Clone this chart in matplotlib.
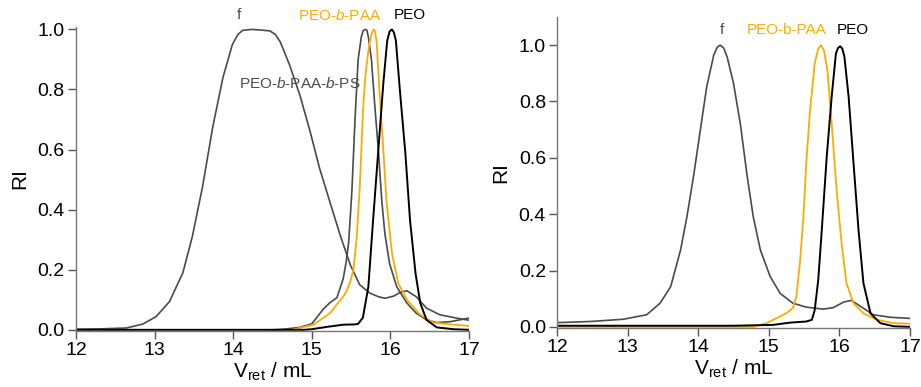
import matplotlib
matplotlib.use('Agg')
import matplotlib.pyplot as plt

plt.rcParams['font.family'] = ['Liberation Sans', 'DejaVu Sans']
plt.rcParams['mathtext.fontset'] = 'custom'
plt.rcParams['mathtext.rm'] = 'Liberation Sans'
plt.rcParams['mathtext.it'] = 'Liberation Sans:italic'

#left panel: triblock, f, PEO-b-PAA, PEO
L_ps_x = [12.0, 12.3, 12.64, 12.85, 13.02, 13.19, 13.36, 13.48, 13.61, 13.74, 13.87, 13.99, 14.06, 14.12, 14.24,
          14.35, 14.47, 14.54, 14.60, 14.72, 14.85, 14.98, 15.10, 15.23, 15.36, 15.49, 15.61, 15.74, 15.85, 15.93,
          16.04, 16.13, 16.21, 16.33, 16.46, 16.63, 16.84, 17.0]
L_ps_y = [0.002, 0.003, 0.006, 0.019, 0.044, 0.094, 0.19, 0.31, 0.476, 0.675, 0.84, 0.95, 0.983, 0.997, 1.0,
          0.998, 0.995, 0.982, 0.958, 0.88, 0.78, 0.659, 0.537, 0.426, 0.316, 0.216, 0.15, 0.122, 0.11, 0.105,
          0.112, 0.125, 0.13, 0.11, 0.072, 0.05, 0.039, 0.032]

L_f_x = [14.5, 14.64, 14.85, 15.0, 15.15, 15.23, 15.32, 15.40, 15.44, 15.47, 15.51, 15.55, 15.59, 15.63,
         15.655, 15.68, 15.70, 15.72, 15.76, 15.80, 15.85, 15.89, 15.93, 15.99, 16.08, 16.21, 16.33, 16.46,
         16.59, 16.76, 17.0]
L_f_y = [0.0, 0.002, 0.008, 0.02, 0.07, 0.09, 0.107, 0.17, 0.23, 0.293, 0.46, 0.70, 0.90, 0.975,
         0.996, 1.0, 0.998, 0.975, 0.897, 0.753, 0.587, 0.432, 0.32, 0.22, 0.144, 0.089, 0.055, 0.033,
         0.024, 0.027, 0.039]

L_paa_x = [14.75, 15.02, 15.23, 15.32, 15.40, 15.44, 15.49, 15.53, 15.57, 15.61, 15.65, 15.68, 15.72,
           15.75, 15.775, 15.79, 15.805, 15.825, 15.86, 15.91, 15.95, 16.02, 16.10, 16.21, 16.38, 16.55,
           16.80, 17.0]
L_paa_y = [0.0, 0.017, 0.055, 0.085, 0.11, 0.127, 0.16, 0.2, 0.3, 0.47, 0.72, 0.84, 0.93,
           0.975, 0.995, 1.0, 0.993, 0.96, 0.80, 0.60, 0.43, 0.255, 0.155, 0.1, 0.05, 0.024,
           0.017, 0.013]

L_peo_x = [12.0, 14.9, 15.0, 15.2, 15.4, 15.55, 15.59, 15.65, 15.72, 15.78, 15.85, 15.91, 15.96, 15.99,
           16.02, 16.045, 16.07, 16.12, 16.19, 16.25, 16.32, 16.38, 16.46, 16.59, 16.80, 17.0]
L_peo_y = [0.0, 0.0, 0.002, 0.01, 0.017, 0.018, 0.02, 0.04, 0.144, 0.365, 0.61, 0.82, 0.963, 0.993,
           1.0, 0.99, 0.963, 0.80, 0.59, 0.365, 0.188, 0.089, 0.033, 0.008, 0.002, 0.0]

#right panel: f, PEO-b-PAA, PEO
R_f_x = [12.0, 12.47, 12.94, 13.27, 13.46, 13.61, 13.75, 13.84, 13.94, 14.03, 14.12, 14.22, 14.27, 14.31,
         14.36, 14.41, 14.50, 14.60, 14.69, 14.78, 14.88, 15.02, 15.16, 15.34, 15.53, 15.77, 15.91, 16.06,
         16.17, 16.34, 16.48, 16.72, 17.0]
R_f_y = [0.015, 0.019, 0.027, 0.043, 0.084, 0.143, 0.273, 0.391, 0.545, 0.699, 0.852, 0.965, 0.993, 1.0,
         0.99, 0.958, 0.864, 0.715, 0.54, 0.39, 0.273, 0.178, 0.119, 0.084, 0.07, 0.063, 0.068, 0.088,
         0.094, 0.066, 0.043, 0.034, 0.03]

R_paa_x = [12.0, 14.78, 14.97, 15.11, 15.25, 15.34, 15.39, 15.44, 15.49, 15.53, 15.58, 15.65, 15.70,
           15.74, 15.78, 15.83, 15.89, 15.96, 16.03, 16.10, 16.20, 16.34, 16.53, 16.77, 17.0]
R_paa_y = [0.0, 0.0, 0.013, 0.031, 0.049, 0.066, 0.107, 0.226, 0.391, 0.58, 0.758, 0.935, 0.988,
           1.0, 0.982, 0.911, 0.722, 0.486, 0.297, 0.155, 0.084, 0.048, 0.025, 0.013, 0.011]

R_peo_x = [12.0, 14.5, 15.06, 15.30, 15.53, 15.61, 15.65, 15.70, 15.75, 15.82, 15.89, 15.95, 15.98,
           16.01, 16.04, 16.07, 16.13, 16.20, 16.27, 16.34, 16.44, 16.58, 16.77, 17.0]
R_peo_y = [0.004, 0.004, 0.007, 0.015, 0.019, 0.025, 0.06, 0.167, 0.344, 0.604, 0.817, 0.97, 0.99,
           0.996, 0.988, 0.96, 0.817, 0.58, 0.344, 0.155, 0.048, 0.013, 0.002, 0.0]

xticks = [12, 13, 14, 15, 16, 17]
yticks = [0.0, 0.2, 0.4, 0.6, 0.8, 1.0]

gray = '#4a4a4a'
orange = '#ffaa00'

fig = plt.figure(figsize=(9.21, 3.87), dpi=100)
axL = fig.add_axes([0.0825, 0.1447, 0.4267, 0.7855])
axR = fig.add_axes([0.6048, 0.1525, 0.3833, 0.8036])

axL.plot(L_ps_x, L_ps_y, color=gray, lw=1.2)
axL.plot(L_f_x, L_f_y, color=gray, lw=1.2)
axL.plot(L_paa_x, L_paa_y, color=orange, lw=1.3)
axL.plot(L_peo_x, L_peo_y, color='black', lw=1.4)
axL.set_ylim(-0.004, 1.008)

axR.plot(R_f_x, R_f_y, color=gray, lw=1.2)
axR.plot(R_paa_x, R_paa_y, color=orange, lw=1.3)
axR.plot(R_peo_x, R_peo_y, color='black', lw=1.4)
axR.set_ylim(-0.004, 1.10)

for ax in (axL, axR):
    ax.set_xlim(12, 17)
    ax.set_xticks(xticks)
    ax.set_yticks(yticks)
    ax.set_yticklabels(['%.1f' % v for v in yticks])
    ax.spines['top'].set_visible(False)
    ax.spines['right'].set_visible(False)
    for s in ('left', 'bottom'):
        ax.spines[s].set_color('#777777')
        ax.spines[s].set_linewidth(1.0)
    ax.tick_params(direction='out', length=6, width=1, color='#555555', labelsize=14, pad=2)
    ax.set_xlabel(r'V$_{\mathrm{ret}}$ / mL', fontsize=15, labelpad=1)
    ax.set_ylabel('RI', fontsize=15, labelpad=6)

#labels
axL.text(14.07, 1.047, 'f', color=gray, fontsize=11, ha='center', va='center', clip_on=False)
axL.text(15.35, 1.047, r'PEO-$\it{b}$-PAA', color=orange, fontsize=11, ha='center', va='center', clip_on=False)
axL.text(16.25, 1.047, 'PEO', color='black', fontsize=11, ha='center', va='center', clip_on=False)
axL.text(14.85, 0.82, r'PEO-$\it{b}$-PAA-$\it{b}$-PS', color=gray, fontsize=11, ha='center', va='center')

axR.text(14.33, 1.053, 'f', color=gray, fontsize=11, ha='center', va='center')
axR.text(15.25, 1.053, 'PEO-b-PAA', color=orange, fontsize=11, ha='center', va='center')
axR.text(16.19, 1.053, 'PEO', color='black', fontsize=11, ha='center', va='center')

plt.savefig('out.png', dpi=100)
